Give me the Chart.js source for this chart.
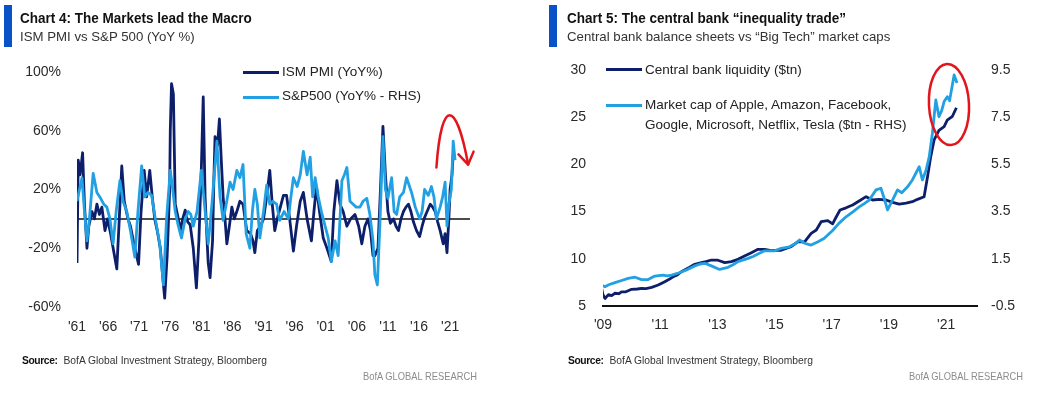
<!DOCTYPE html>
<html><head><meta charset="utf-8">
<script src="https://cdn.jsdelivr.net/npm/chart.js@4.4.1/dist/chart.umd.min.js"></script>
<style>
html,body{margin:0;padding:0;background:#fff;}
body{width:1050px;height:399px;position:relative;overflow:hidden;font-family:"Liberation Sans",Arial,sans-serif;color:#222;}
canvas{position:absolute;top:0;}
.abs{position:absolute;white-space:nowrap;}
.bar{position:absolute;top:5px;width:8px;height:42px;background:#0a52c8;}
.title{font-weight:bold;font-size:15px;line-height:20px;top:8px;color:#111;transform:scaleX(0.9);transform-origin:0 50%;}
.sub{font-size:13.5px;line-height:18px;top:28px;color:#333;transform:scaleX(0.98);transform-origin:0 50%;}
.leg{font-size:13.5px;line-height:18px;color:#222;}
.leg2{font-size:13.5px;line-height:20px;color:#222;}
.legline{position:absolute;height:3px;width:36px;}
.src{font-size:10.5px;line-height:14px;top:353px;color:#333;transform:scaleX(0.98);transform-origin:0 50%;}
.src b{font-weight:bold;color:#111;letter-spacing:-0.4px;margin-right:6px;}
.brand{font-size:10.5px;line-height:14px;top:369px;color:#8c8c8c;transform:scaleX(0.89);transform-origin:0 50%;}
</style></head>
<body>
<canvas id="c4" width="525" height="399" style="left:0"></canvas>
<canvas id="c5" width="525" height="399" style="left:525px"></canvas>

<div class="bar" style="left:4px"></div>
<div class="abs title" style="left:20px">Chart 4: The Markets lead the Macro</div>
<div class="abs sub" style="left:20px">ISM PMI vs S&amp;P 500 (YoY %)</div>
<div class="legline" style="left:243px;top:71px;background:#0d1f6b"></div>
<div class="abs leg" style="left:282px;top:63px">ISM PMI (YoY%)</div>
<div class="legline" style="left:243px;top:96px;background:#21a0e3"></div>
<div class="abs leg" style="left:282px;top:87px">S&amp;P500 (YoY% - RHS)</div>
<div class="abs src" style="left:22px"><b>Source:</b>BofA Global Investment Strategy, Bloomberg</div>
<div class="abs brand" style="left:363px">BofA GLOBAL RESEARCH</div>

<div class="bar" style="left:549px"></div>
<div class="abs title" style="left:567px">Chart 5: The central bank “inequality trade”</div>
<div class="abs sub" style="left:567px">Central bank balance sheets vs “Big Tech” market caps</div>
<div class="legline" style="left:606px;top:68px;background:#0d1f6b"></div>
<div class="abs leg" style="left:645px;top:61px">Central bank liquidity ($tn)</div>
<div class="legline" style="left:606px;top:104px;background:#21a0e3"></div>
<div class="abs leg2" style="left:645px;top:95px">Market cap of Apple, Amazon, Facebook,<br>Google, Microsoft, Netflix, Tesla ($tn - RHS)</div>
<div class="abs src" style="left:568px"><b>Source:</b>BofA Global Investment Strategy, Bloomberg</div>
<div class="abs brand" style="left:909px">BofA GLOBAL RESEARCH</div>

<script>
// ---------- Chart 4 data: [year, YoY %] ----------
const ismPoints = [[1961.0,-30],[1961.2,40],[1961.5,30],[1961.9,45],[1962.2,10],[1962.6,-20],[1962.9,-5],[1963.4,5],[1963.8,0],[1964.2,10],[1964.6,3],[1965.0,8],[1965.5,-8],[1965.9,0],[1966.4,-10],[1966.9,-22],[1967.4,-34],[1967.8,0],[1968.2,36],[1968.6,12],[1969.2,0],[1969.6,-5],[1970.2,-18],[1970.9,-31],[1971.3,5],[1971.8,33],[1972.2,15],[1972.7,33],[1973.1,15],[1973.5,0],[1973.9,-8],[1974.4,-20],[1974.8,-40],[1975.1,-54],[1975.5,-25],[1975.9,20],[1976.0,60],[1976.2,92],[1976.5,85],[1976.8,10],[1977.2,2],[1977.6,-8],[1978.0,0],[1978.4,6],[1978.8,-2],[1979.2,-4],[1979.7,-20],[1980.2,-47],[1980.6,-15],[1981.0,35],[1981.3,83],[1981.6,15],[1981.9,-13],[1982.1,-30],[1982.4,-40],[1982.8,-15],[1983.0,25],[1983.2,56],[1983.6,50],[1983.9,68],[1984.2,40],[1984.5,15],[1984.8,0],[1985.1,-17],[1985.5,-5],[1985.9,8],[1986.3,0],[1986.7,5],[1987.2,12],[1987.7,10],[1988.3,-8],[1988.9,-10],[1989.3,-15],[1989.6,-23],[1990.0,-8],[1990.5,-5],[1991.0,0],[1991.5,15],[1992.0,33],[1992.4,10],[1992.8,-8],[1993.2,0],[1993.7,8],[1994.2,16],[1994.7,16],[1995.2,0],[1995.8,-22],[1996.3,-5],[1996.9,12],[1997.4,18],[1998.0,0],[1998.7,-15],[1999.1,5],[1999.5,22],[2000.0,5],[2000.6,-13],[2001.2,-20],[2001.9,-29],[2002.3,5],[2002.8,26],[2003.3,10],[2003.8,5],[2004.4,-5],[2005.0,0],[2005.7,3],[2006.3,-5],[2006.8,-17],[2007.3,-5],[2007.8,0],[2008.2,-8],[2008.6,-25],[2008.9,-25],[2009.4,-20],[2009.8,20],[2010.2,63],[2010.6,30],[2011.0,5],[2011.4,-3],[2011.9,0],[2012.3,-5],[2012.7,-8],[2013.1,0],[2013.5,5],[2013.9,8],[2014.3,10],[2014.7,5],[2015.1,-2],[2015.6,-8],[2016.1,-12],[2016.5,-5],[2016.9,1],[2017.3,5],[2017.8,10],[2018.2,8],[2018.6,5],[2019.0,-2],[2019.4,-8],[2019.9,-17],[2020.2,-10],[2020.5,-23],[2020.8,0],[2021.0,20],[2021.3,30],[2021.5,44]];
const spxPoints = [[1961.0,12],[1961.4,20],[1961.8,28],[1962.2,5],[1962.6,-15],[1963.0,0],[1963.6,31],[1964.2,18],[1964.8,14],[1965.3,10],[1965.8,8],[1966.3,0],[1966.8,-17],[1967.3,5],[1967.9,26],[1968.4,12],[1969.0,5],[1969.6,-8],[1970.3,-26],[1970.8,5],[1971.4,36],[1971.9,15],[1972.4,18],[1973.0,16],[1973.6,0],[1974.3,-17],[1974.9,-45],[1975.4,0],[1976.0,33],[1976.4,20],[1976.8,5],[1977.3,-5],[1977.8,-13],[1978.4,0],[1978.9,5],[1979.3,3],[1979.7,-5],[1980.3,5],[1981.0,33],[1981.5,10],[1982.1,-17],[1982.7,10],[1983.5,53],[1984.0,15],[1984.5,-1],[1985.0,10],[1985.6,25],[1986.1,20],[1986.7,33],[1987.2,28],[1987.7,37],[1988.2,-10],[1988.8,-20],[1989.2,5],[1989.6,20],[1990.0,10],[1990.4,-13],[1991.0,5],[1991.5,23],[1992.0,10],[1992.5,12],[1993.1,10],[1993.6,-1],[1994.3,5],[1995.0,0],[1995.4,15],[1995.8,28],[1996.4,22],[1996.9,30],[1997.4,46],[1998.0,30],[1998.5,42],[1998.9,15],[1999.3,28],[1999.8,15],[2000.3,5],[2000.9,-5],[2001.4,-13],[2001.9,-29],[2002.5,-15],[2003.0,-25],[2003.6,26],[2004.0,30],[2004.4,35],[2004.9,12],[2005.4,10],[2005.9,8],[2006.5,8],[2007.0,12],[2007.6,14],[2008.1,3],[2008.6,-15],[2008.9,-38],[2009.3,-45],[2009.7,-5],[2010.2,56],[2010.6,20],[2011.0,14],[2011.6,28],[2012.0,5],[2012.4,3],[2012.9,15],[2013.5,18],[2014.0,28],[2014.8,18],[2015.4,8],[2016.1,0],[2016.5,5],[2016.9,20],[2017.5,16],[2018.0,22],[2018.4,15],[2018.8,0],[2019.4,8],[2019.8,15],[2020.2,25],[2020.5,-5],[2020.8,10],[2021.2,20],[2021.5,53],[2021.8,40]];
const ticks4X = [1961,1966,1971,1976,1981,1986,1991,1996,2001,2006,2011,2016,2021];
const ticks4Y = [-60,-20,20,60,100];
// annotation: red arrow (year, %) start, control 1, control 2, end
const arrowPath = [[2018.8,35],[2019.6,83],[2022.0,81],[2023.9,37]];

// ---------- Chart 5 data ----------
const cbPoints = [[2008.95,6.9],[2009.0,6.2],[2009.07,5.8],[2009.19,6.2],[2009.3,6.1],[2009.42,6.35],[2009.55,6.3],[2009.65,6.5],[2009.8,6.5],[2010.0,6.77],[2010.2,6.8],[2010.35,6.87],[2010.5,6.85],[2010.7,6.98],[2010.93,7.22],[2011.16,7.58],[2011.3,7.8],[2011.45,8.1],[2011.6,8.3],[2011.74,8.63],[2011.9,8.9],[2012.03,9.1],[2012.21,9.42],[2012.44,9.6],[2012.6,9.7],[2012.79,9.87],[2013.02,9.85],[2013.26,9.6],[2013.49,9.7],[2013.72,9.94],[2013.95,10.3],[2014.19,10.65],[2014.42,11.0],[2014.65,11.0],[2014.88,10.86],[2015.05,10.9],[2015.23,10.9],[2015.4,11.1],[2015.58,11.28],[2015.81,11.8],[2016.05,11.8],[2016.28,12.7],[2016.46,13.05],[2016.63,13.93],[2016.86,14.04],[2017.03,13.7],[2017.15,14.4],[2017.29,15.17],[2017.5,15.4],[2017.73,15.7],[2018.0,16.2],[2018.2,16.58],[2018.43,16.23],[2018.65,16.3],[2018.9,16.23],[2019.1,16.0],[2019.36,15.8],[2019.6,15.9],[2019.82,16.05],[2020.0,16.3],[2020.23,16.58],[2020.35,18.7],[2020.46,20.8],[2020.58,22.6],[2020.75,23.6],[2020.93,24.0],[2021.04,24.7],[2021.22,25.1],[2021.36,26.0]];
const capPoints = [[2008.95,0.39],[2009.07,0.32],[2009.2,0.4],[2009.42,0.49],[2009.65,0.58],[2009.88,0.67],[2010.12,0.72],[2010.35,0.62],[2010.58,0.62],[2010.81,0.77],[2011.1,0.81],[2011.25,0.78],[2011.4,0.81],[2011.6,0.88],[2011.92,1.03],[2012.21,1.2],[2012.4,1.28],[2012.56,1.31],[2012.79,1.2],[2013.08,1.05],[2013.37,1.14],[2013.55,1.25],[2013.72,1.38],[2014.07,1.52],[2014.25,1.6],[2014.42,1.7],[2014.65,1.84],[2015.0,1.84],[2015.23,1.94],[2015.52,2.01],[2015.75,2.16],[2015.87,2.3],[2016.05,2.16],[2016.28,2.08],[2016.52,2.22],[2016.74,2.37],[2017.03,2.7],[2017.25,3.0],[2017.5,3.28],[2017.75,3.5],[2017.96,3.7],[2018.15,3.85],[2018.31,3.99],[2018.55,4.42],[2018.72,4.49],[2018.85,4.0],[2018.95,3.57],[2019.13,4.0],[2019.3,4.42],[2019.45,4.3],[2019.65,4.55],[2019.82,4.84],[2020.06,5.4],[2020.17,4.84],[2020.3,5.26],[2020.41,5.83],[2020.52,6.82],[2020.64,8.23],[2020.75,7.52],[2020.85,7.8],[2020.93,8.16],[2021.04,8.37],[2021.12,8.2],[2021.28,9.29],[2021.38,8.95]];
const ticks5X = [2009,2011,2013,2015,2017,2019,2021];
const ticks5Left = [5,10,15,20,25,30];
const ticks5Right = [-0.5,1.5,3.5,5.5,7.5,9.5];
// annotation: red ring centre (year, $tn left axis) and radii (years, $tn)
const ringCenter = [2021.1,26.35];
const ringRadius = [0.70,4.3];

// ---------- styling ----------
const DARK = '#0d1f6b', LIGHT = '#21a0e3', RED = '#e3141c', TXT = '#2a2a2a';
Chart.defaults.font.family = '"Liberation Sans", Arial, sans-serif';
Chart.defaults.font.size = 14;
Chart.defaults.color = TXT;

const toXY = pts => pts.map(p => ({x:p[0], y:p[1]}));
const setTicks = arr => s => { s.ticks = arr.map(v => ({value:v})); };
const yr = v => "'" + String(Math.round(v)).slice(2);

const zeroLine = {
  id:'zeroLine',
  beforeDatasetsDraw(chart){
    const {ctx, chartArea:a, scales:{y}} = chart;
    const py = y.getPixelForValue(0);
    ctx.save(); ctx.strokeStyle = '#111'; ctx.lineWidth = 1.5;
    ctx.beginPath(); ctx.moveTo(a.left, py); ctx.lineTo(a.right, py); ctx.stroke(); ctx.restore();
  }
};
const redArrow = {
  id:'redArrow',
  afterDatasetsDraw(chart){
    const {ctx, scales:{x, y}} = chart;
    const P = arrowPath.map(p => [x.getPixelForValue(p[0]), y.getPixelForValue(p[1])]);
    ctx.save(); ctx.strokeStyle = RED; ctx.lineWidth = 2.5; ctx.lineCap = 'round'; ctx.lineJoin = 'round';
    ctx.beginPath(); ctx.moveTo(P[0][0], P[0][1]);
    ctx.bezierCurveTo(P[1][0], P[1][1], P[2][0], P[2][1], P[3][0], P[3][1]); ctx.stroke();
    const ang = Math.atan2(P[3][1]-P[2][1], P[3][0]-P[2][0]), L = 14, s = 0.58;
    ctx.beginPath();
    ctx.moveTo(P[3][0]-L*Math.cos(ang-s), P[3][1]-L*Math.sin(ang-s));
    ctx.lineTo(P[3][0], P[3][1]);
    ctx.lineTo(P[3][0]-L*Math.cos(ang+s), P[3][1]-L*Math.sin(ang+s));
    ctx.stroke(); ctx.restore();
  }
};
const redRing = {
  id:'redRing',
  afterDatasetsDraw(chart){
    const {ctx, scales:{x, y}} = chart;
    const cx = x.getPixelForValue(ringCenter[0]), cy = y.getPixelForValue(ringCenter[1]);
    const rx = Math.abs(x.getPixelForValue(ringCenter[0]+ringRadius[0]) - cx);
    const ry = Math.abs(y.getPixelForValue(ringCenter[1]+ringRadius[1]) - cy);
    ctx.save(); ctx.strokeStyle = RED; ctx.lineWidth = 2.5;
    ctx.beginPath(); ctx.ellipse(cx, cy, rx, ry, -0.05, 0, Math.PI*2); ctx.stroke(); ctx.restore();
  }
};

const lineDs = (label, pts, color, axis) => ({
  label, data: toXY(pts), borderColor: color, backgroundColor: color,
  borderWidth: 2.8, pointRadius: 0, tension: 0, borderJoinStyle: 'round', yAxisID: axis
});

new Chart(document.getElementById('c4'), {
  type:'line',
  data:{ datasets:[
    lineDs('S&P500 (YoY% - RHS)', spxPoints, LIGHT, 'y1'),
    lineDs('ISM PMI (YoY%)', ismPoints, DARK, 'y')
  ]},
  options:{
    responsive:false, animation:false, devicePixelRatio:1,
    layout:{padding:{top:72, right:55, bottom:62, left:0}},
    plugins:{legend:{display:false}, tooltip:{enabled:false}},
    scales:{
      x:{type:'linear', min:1961, max:2024.2,
         grid:{display:false, drawTicks:false}, border:{display:false},
         ticks:{padding:12, autoSkip:false, maxRotation:0, callback:yr},
         afterBuildTicks:setTicks(ticks4X), afterFit:s=>{s.height=30;}},
      y:{min:-60, max:100, grid:{display:false, drawTicks:false}, border:{display:false},
         ticks:{padding:16, callback:v=>v+'%'},
         afterBuildTicks:setTicks(ticks4Y), afterFit:s=>{s.width=77;}},
      y1:{display:false, min:-60, max:100}
    }
  },
  plugins:[zeroLine, redArrow]
});

new Chart(document.getElementById('c5'), {
  type:'line',
  data:{ datasets:[
    lineDs('Market cap of Apple, Amazon, Facebook, Google, Microsoft, Netflix, Tesla ($tn - RHS)', capPoints, LIGHT, 'y1'),
    lineDs('Central bank liquidity ($tn)', cbPoints, DARK, 'y')
  ]},
  options:{
    responsive:false, animation:false, devicePixelRatio:1,
    layout:{padding:{top:70, right:13, bottom:63, left:0}},
    plugins:{legend:{display:false}, tooltip:{enabled:false}},
    scales:{
      x:{type:'linear', min:2009, max:2022.08,
         grid:{display:false, drawTicks:false}, border:{display:true, color:'#111', width:2},
         ticks:{padding:11, autoSkip:false, maxRotation:0, callback:yr},
         afterBuildTicks:setTicks(ticks5X), afterFit:s=>{s.height=30;}},
      y:{position:'left', min:5, max:30, grid:{display:false, drawTicks:false}, border:{display:false},
         ticks:{padding:17},
         afterBuildTicks:setTicks(ticks5Left), afterFit:s=>{s.width=78;}},
      y1:{position:'right', min:-0.5, max:9.5, grid:{display:false, drawTicks:false}, border:{display:false},
         ticks:{padding:14, callback:v=>v.toFixed(1)},
         afterBuildTicks:setTicks(ticks5Right), afterFit:s=>{s.width=60;}}
    }
  },
  plugins:[redRing]
});
</script>
</body></html>
